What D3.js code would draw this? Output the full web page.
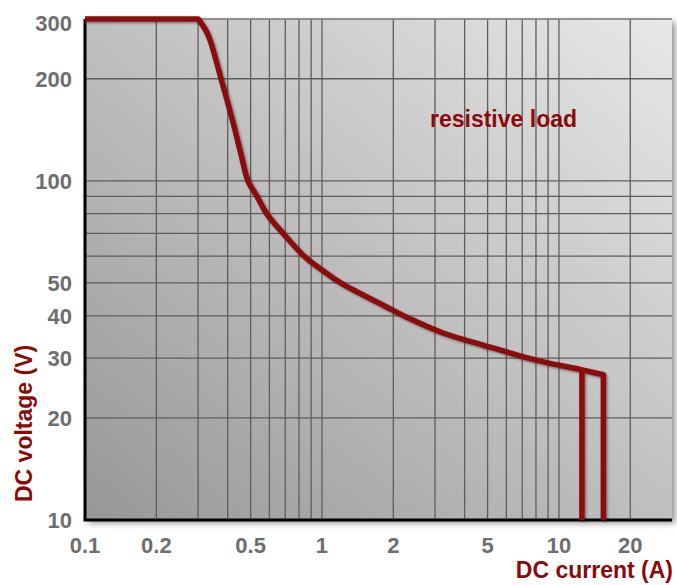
<!DOCTYPE html>
<html>
<head>
<meta charset="utf-8">
<script src="https://cdn.jsdelivr.net/npm/d3@7"></script>
<style>
  body { margin: 0; background: #fff; }
  text { font-family: "Liberation Sans", Arial, sans-serif; font-weight: bold; }
</style>
</head>
<body>
<div id="chart"></div>
<script>
// curve: current (A) vs voltage (V)
const currents = [0.1, 0.3, 0.33, 0.375, 0.42, 0.455, 0.487, 0.532, 0.586, 0.684, 0.848, 1.0, 1.2, 1.88, 2.28, 3.24, 4.78, 8, 12.5, 15.4]
const voltages = [300, 300, 270, 200, 150, 120, 100, 90, 79.8, 70.1, 59.6, 54.6, 50, 42.4, 39.6, 35.6, 32.8, 29.6, 27.7, 26.8]

// two vertical cut-offs at the end of the curve
const cutCurrents = [12.5, 15.4]
const cutTop = [27.7, 26.8]

const xGrid = [0.2, 0.3, 0.4, 0.5, 0.6, 0.7, 0.8, 0.9, 1, 2, 3, 4, 5, 6, 7, 8, 9, 10, 20]
const yGrid = [20, 30, 40, 50, 60, 70, 80, 90, 100, 200]
const xTicks = [0.1, 0.2, 0.5, 1, 2, 5, 10, 20]
const yTicks = [10, 20, 30, 40, 50, 100, 200, 300]

const width = 677, height = 585
const margin = {top: 19, right: 5, bottom: 65, left: 85}
const darkRed = "#8a0a0a"

const svg = d3.select("#chart").append("svg")
  .attr("width", width).attr("height", height)

const defs = svg.append("defs")
const grad = defs.append("linearGradient")
  .attr("id", "bg").attr("x1", "0%").attr("y1", "100%").attr("x2", "100%").attr("y2", "0%")
grad.append("stop").attr("offset", "0%").attr("stop-color", "#979797")
grad.append("stop").attr("offset", "100%").attr("stop-color", "#e8e8e8")

const shadow = defs.append("filter").attr("id", "shadow")
  .attr("x", "-5%").attr("y", "-5%").attr("width", "115%").attr("height", "115%")
shadow.append("feDropShadow").attr("dx", 3).attr("dy", 3).attr("stdDeviation", 3)
  .attr("flood-color", "#000").attr("flood-opacity", 0.45)

const lineShadow = defs.append("filter").attr("id", "lineShadow")
  .attr("x", "-10%").attr("y", "-10%").attr("width", "130%").attr("height", "130%")
lineShadow.append("feDropShadow").attr("dx", 1.5).attr("dy", 1.5).attr("stdDeviation", 1.2)
  .attr("flood-color", "#000").attr("flood-opacity", 0.4)

const x = d3.scaleLog().domain([0.1, 30]).range([margin.left, width - margin.right])
const y = d3.scaleLog().domain([10, 300]).range([height - margin.bottom, margin.top])

// plot background
svg.append("rect")
  .attr("x", x(0.1)).attr("y", y(300))
  .attr("width", x(30) - x(0.1)).attr("height", y(10) - y(300))
  .attr("fill", "url(#bg)")
  .attr("filter", "url(#shadow)")

// grid
svg.append("g").selectAll("line").data(xGrid).join("line")
  .attr("x1", d => x(d)).attr("x2", d => x(d))
  .attr("y1", y(300)).attr("y2", y(10))
  .attr("stroke", "#5e5e5e").attr("stroke-width", 1.3)

svg.append("g").selectAll("line").data(yGrid).join("line")
  .attr("x1", x(0.1)).attr("x2", x(30))
  .attr("y1", d => y(d)).attr("y2", d => y(d))
  .attr("stroke", "#5e5e5e").attr("stroke-width", 1.3)

// top edge
svg.append("line")
  .attr("x1", x(0.1)).attr("x2", x(30)).attr("y1", y(300)).attr("y2", y(300))
  .attr("stroke", "#777").attr("stroke-width", 1.5)

// left and bottom axis lines
svg.append("path")
  .attr("d", `M${x(0.1)},${y(300)}V${y(10)}H${x(30)}`)
  .attr("fill", "none").attr("stroke", "#000").attr("stroke-width", 3)

// curve: flat part straight, the rest smoothed
const smooth = d3.line()
  .x(d => x(d[0])).y(d => y(d[1]))
  .curve(d3.curveCatmullRom.alpha(0.5))

const pts = currents.map((c, i) => [c, voltages[i]])
const curvePath = `M${x(pts[0][0])},${y(pts[0][1])}` +
  smooth(pts.slice(1)).replace(/^M/, "L") + `V${y(10)}`

const curveG = svg.append("g").attr("filter", "url(#lineShadow)")

curveG.append("path")
  .attr("d", curvePath)
  .attr("fill", "none").attr("stroke", darkRed)
  .attr("stroke-width", 5.5).attr("stroke-linejoin", "round")

curveG.append("path")
  .attr("d", `M${x(cutCurrents[0])},${y(cutTop[0])}V${y(10)}`)
  .attr("fill", "none").attr("stroke", darkRed).attr("stroke-width", 5.5)

// tick labels
svg.append("g").selectAll("text").data(xTicks).join("text")
  .attr("x", d => x(d)).attr("y", 553)
  .attr("text-anchor", "middle")
  .attr("font-size", 22).attr("fill", "#6e6e6e")
  .text(d => d)

svg.append("g").selectAll("text").data(yTicks).join("text")
  .attr("x", 72).attr("y", d => Math.max(y(d) + 8, 31))
  .attr("text-anchor", "end")
  .attr("font-size", 22).attr("fill", "#6e6e6e")
  .text(d => d)

// axis titles
svg.append("text")
  .attr("x", 673).attr("y", 578)
  .attr("text-anchor", "end")
  .attr("font-size", 23).attr("fill", darkRed)
  .text("DC current (A)")

svg.append("text")
  .attr("transform", `translate(32,502) rotate(-90)`)
  .attr("text-anchor", "start")
  .attr("font-size", 23).attr("fill", darkRed)
  .text("DC voltage (V)")

svg.append("text")
  .attr("x", 430).attr("y", 127)
  .attr("font-size", 23).attr("fill", darkRed)
  .text("resistive load")
</script>
</body>
</html>
